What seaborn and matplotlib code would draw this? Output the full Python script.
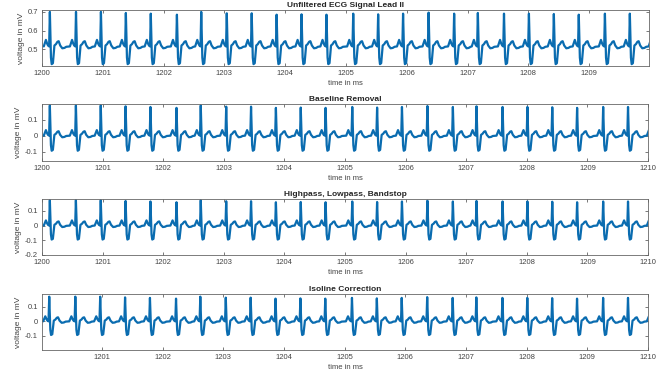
import numpy as np
import pandas as pd
import matplotlib
matplotlib.use("Agg")
import matplotlib.pyplot as plt
import seaborn as sns

# R-peak times (one per heartbeat)
beat_times = [1200.13, 1200.56, 1200.97, 1201.38, 1201.79, 1202.22, 1202.62, 1203.04,
              1203.45, 1203.86, 1204.27, 1204.68, 1205.12, 1205.53, 1205.94, 1206.36,
              1206.78, 1207.17, 1207.60, 1208.01, 1208.42, 1208.83, 1209.26, 1209.67,
              1210.08]
# relative R-peak height per beat
r_scale = [1.00, 1.00, 1.00, 0.97, 0.95, 0.92, 1.00, 0.96, 0.96, 0.92, 0.93, 0.92,
           0.95, 0.93, 0.95, 0.98, 0.95, 0.97, 0.95, 0.95, 0.94, 0.92, 0.95, 0.95, 0.95]

# one heartbeat around the R peak (offset from R peak, mV above isoline)
beat_offset = [-0.10, -0.085, -0.065, -0.045, -0.030, -0.012, 0.0, 0.018, 0.030, 0.050,
               0.075, 0.100, 0.125, 0.145, 0.170, 0.205, 0.240, 0.270]
beat_mv = [0.000, 0.015, 0.035, 0.015, 0.005, 0.000, 0.185, -0.060, -0.095, -0.090,
           0.005, 0.012, 0.025, 0.028, 0.005, -0.010, -0.008, -0.002]

panel_titles = ["Unfiltered ECG Signal Lead II", "Baseline Removal",
                "Highpass, Lowpass, Bandstop", "Isoline Correction"]
panel_isoline = [0.515, 0.0, 0.0, 0.0]
panel_r_gain = [1.0, 1.03, 0.93, 0.93]
panel_xlim = [(1200, 1209.98), (1200, 1210), (1200, 1210), (1200.01, 1210)]
panel_xticks = [list(range(1200, 1210)), list(range(1200, 1211)),
                list(range(1200, 1211)), list(range(1201, 1211))]
panel_ylim = [(0.41, 0.71), (-0.16, 0.2), (-0.2, 0.18), (-0.2, 0.19)]
panel_yticks = [[0.5, 0.6, 0.7], [-0.1, 0, 0.1], [-0.2, -0.1, 0, 0.1], [-0.1, 0, 0.1]]
panel_ylabels = [["0.5", "0.6", "0.7"], ["-0.1", "0", "0.1"],
                 ["-0.2", "-0.1", "0", "0.1"], ["-0.1", "0", "0.1"]]


def build_signal(iso, gain):
    rows = []
    for bt, rs in zip(beat_times, r_scale):
        for off, mv in zip(beat_offset, beat_mv):
            val = mv * rs * gain if off == 0.0 else mv
            rows.append((bt + off, iso + val))
    return pd.DataFrame(rows, columns=["time", "mv"])


sns.set_theme(style="ticks")
plt.rcParams["font.family"] = ["Liberation Sans", "DejaVu Sans"]

fig = plt.figure(figsize=(6.66, 3.78), dpi=100)
boxes = [(0.063, 0.8254, 0.911, 0.148), (0.063, 0.574, 0.910, 0.151),
         (0.063, 0.3254, 0.910, 0.148), (0.063, 0.074, 0.910, 0.148)]

for i in range(4):
    ax = fig.add_axes(boxes[i])
    df = build_signal(panel_isoline[i], panel_r_gain[i])
    sns.lineplot(data=df, x="time", y="mv", ax=ax, color="#0A6CB0",
                 linewidth=1.6, estimator=None, sort=True)
    ax.set_xlim(*panel_xlim[i])
    ax.set_ylim(*panel_ylim[i])
    ax.set_xticks(panel_xticks[i])
    ax.set_xticklabels([str(v) for v in panel_xticks[i]])
    ax.set_yticks(panel_yticks[i])
    ax.set_yticklabels(panel_ylabels[i])
    ax.tick_params(direction="in", top=True, right=True, length=2.5, width=0.5,
                   labelsize=5.5, colors="#444444", pad=3)
    for sp in ax.spines.values():
        sp.set_visible(True)
        sp.set_linewidth(0.6)
        sp.set_color("#666666")
    ax.set_title(panel_titles[i], fontsize=6, fontweight="bold", pad=2)
    ax.set_xlabel("time in ms", fontsize=5.5, color="#444444", labelpad=2)
    ax.set_ylabel("voltage in mV", fontsize=6, color="#444444", labelpad=2)

fig.savefig("out.png", dpi=100)
